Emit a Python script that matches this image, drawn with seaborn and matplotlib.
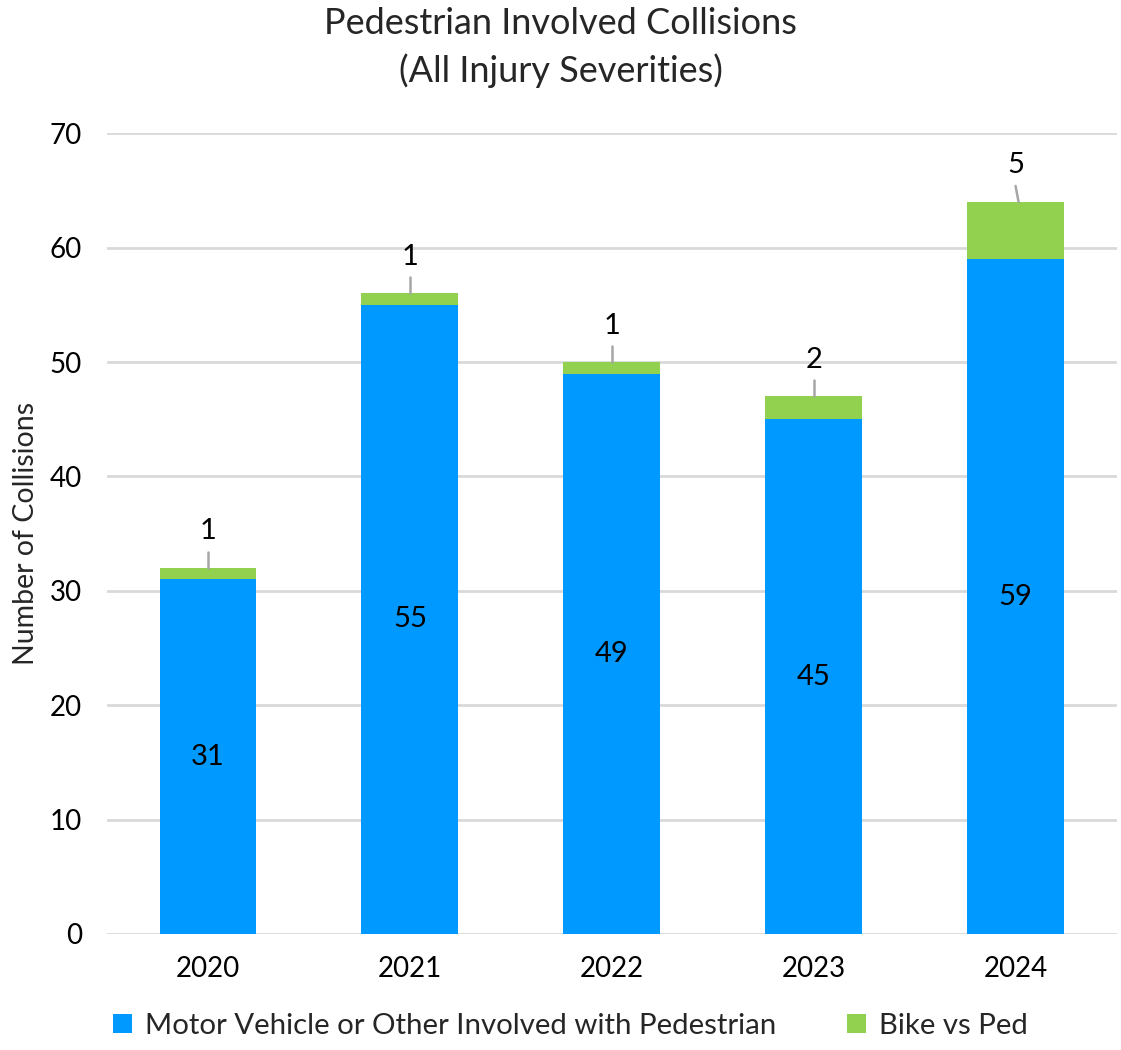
import matplotlib
matplotlib.use("Agg")
import matplotlib.pyplot as plt
import seaborn as sns
import pandas as pd
from matplotlib.patches import Patch

years = ["2020", "2021", "2022", "2023", "2024"]
motor_vehicle = [31, 55, 49, 45, 59]
bike_vs_ped = [1, 1, 1, 2, 5]

BLUE = "#0099FF"
GREEN = "#92D050"
GRID = "#D9D9D9"

sns.set_theme(style="white")
plt.rcParams["font.family"] = ["Lato", "DejaVu Sans"]

df = pd.DataFrame({
    "Year": years,
    "Motor": motor_vehicle,
    "Bike": bike_vs_ped,
})
df["Total"] = df["Motor"] + df["Bike"]

fig = plt.figure(figsize=(11.21, 10.5), dpi=100)
ax = fig.add_axes([0.0955, 0.1105, 0.9005, 0.7625])

# stacked bars: total in green underneath, motor vehicle share in blue on top
sns.barplot(data=df, x="Year", y="Total", color=GREEN, width=0.48,
            saturation=1, linewidth=0, edgecolor="none", ax=ax, zorder=3)
sns.barplot(data=df, x="Year", y="Motor", color=BLUE, width=0.48,
            saturation=1, linewidth=0, edgecolor="none", ax=ax, zorder=4)

ax.set_ylim(0, 70)
ax.set_xlim(-0.5, 4.5)
ax.set_yticks(range(0, 71, 10))
ax.yaxis.grid(True, color=GRID, linewidth=2, zorder=0)
ax.set_axisbelow(True)
for s in ax.spines.values():
    s.set_visible(False)
ax.tick_params(axis="both", length=0, labelsize=20, colors="#000000")
ax.tick_params(axis="x", pad=16)
ax.tick_params(axis="y", pad=18)
ax.set_xlabel("")
ax.set_ylabel("Number of Collisions", fontsize=20.5, labelpad=8)

# value labels
for i, (m, b) in enumerate(zip(motor_vehicle, bike_vs_ped)):
    ax.text(i, m / 2, str(m), ha="center", va="center", fontsize=21,
            color="#000000", zorder=5)
    top = m + b
    ax.plot([i, i + (0.015 if b >= 5 else 0)], [top + 1.4, top],
            color="#A6A6A6", linewidth=1.8, zorder=5)
    ax.text(i, top + 3.2, str(b), ha="center", va="center", fontsize=21,
            color="#000000", zorder=5)

fig.text(0.5, 0.978, "Pedestrian Involved Collisions", ha="center",
         va="center", fontsize=26)
fig.text(0.5, 0.933, "(All Injury Severities)", ha="center",
         va="center", fontsize=26)

handles = [Patch(facecolor=BLUE, edgecolor="none"),
           Patch(facecolor=GREEN, edgecolor="none")]
fig.legend(handles, ["Motor Vehicle or Other Involved with Pedestrian",
                     "Bike vs Ped"],
           loc="center", bbox_to_anchor=(0.509, 0.023), ncol=2, frameon=False,
           fontsize=21.2, handlelength=0.65, handleheight=0.65,
           handletextpad=0.45, columnspacing=2.4)

fig.savefig("out.png", dpi=100)
